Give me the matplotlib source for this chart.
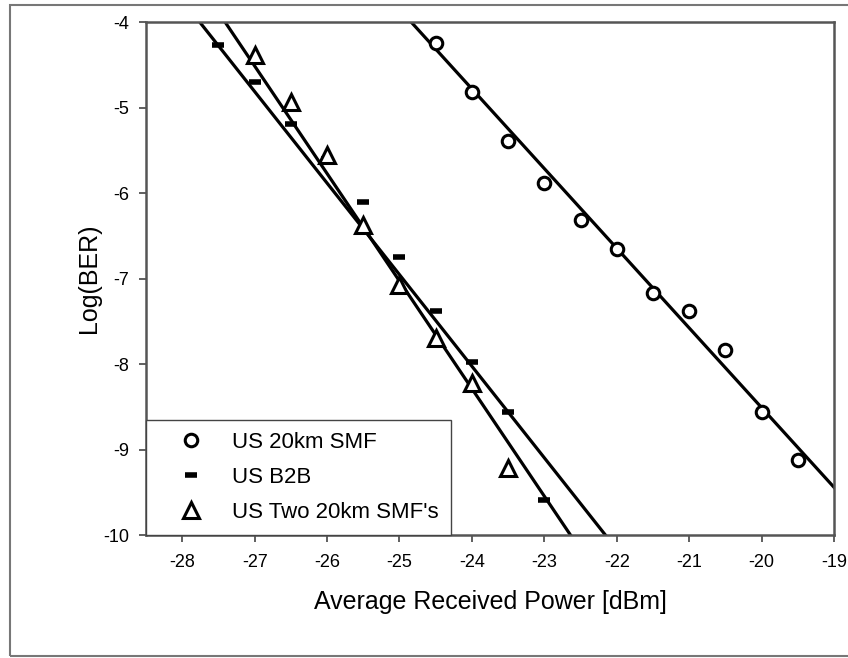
import numpy as np
import matplotlib
matplotlib.use('Agg')
import matplotlib.pyplot as plt
from matplotlib.patches import Rectangle

plt.rcParams['font.family'] = ['Liberation Sans', 'DejaVu Sans']
plt.rcParams['axes.unicode_minus'] = False

# US 20km SMF
x_20km = [-24.5, -24, -23.5, -23, -22.5, -22, -21.5, -21, -20.5, -20, -19.5]
y_20km = [-4.25, -4.82, -5.39, -5.88, -6.32, -6.65, -7.17, -7.38, -7.84, -8.56, -9.12]

# US B2B
x_b2b = [-27.5, -27, -26.5, -26, -25.5, -25, -24.5, -24, -23.5, -23]
y_b2b = [-4.27, -4.70, -5.19, -5.60, -6.10, -6.75, -7.38, -7.98, -8.56, -9.59]

# US Two 20km SMF's
x_two = [-27, -26.5, -26, -25.5, -25, -24.5, -24, -23.5]
y_two = [-4.39, -4.94, -5.56, -6.38, -7.08, -7.70, -8.22, -9.22]

# linear trendlines (slope, intercept)
trend_20km = (-0.932, -27.15)
trend_b2b = (-1.071, -33.73)
trend_two = (-1.258, -38.48)

xticks = [-28, -27, -26, -25, -24, -23, -22, -21, -20, -19]
yticks = [-4, -5, -6, -7, -8, -9, -10]

fig = plt.figure(figsize=(8.48, 6.58), dpi=100)
ax = fig.add_axes([146 / 848, 1 - 535 / 658, 688 / 848, 513 / 658])

# outer frame
fig.patches.append(Rectangle((10 / 848, 2 / 658), 1.2, 651 / 658, transform=fig.transFigure,
                             fill=False, edgecolor='#777777', lw=1.5))

xs = np.linspace(-30, -18, 50)
for m, b in [trend_20km, trend_b2b, trend_two]:
    ax.plot(xs, m * xs + b, color='black', lw=2.3, zorder=2)

ax.plot(x_20km, y_20km, 'o', ms=9, mfc='white', mec='black', mew=2.2, ls='none',
        label='US 20km SMF', zorder=3)
ax.plot(x_b2b, y_b2b, '_', ms=8, mec='black', mew=4, ls='none',
        label='US B2B', zorder=3)
ax.plot(x_two, y_two, '^', ms=11, mfc='white', mec='black', mew=2.2, ls='none',
        label="US Two 20km SMF's", zorder=3)

ax.set_xlim(-28.5, -19)
ax.set_ylim(-10, -4)
ax.set_xticks(xticks)
ax.set_yticks(yticks)
ax.tick_params(labelsize=13, length=5, width=1.2, color='#444444', pad=7)
ax.tick_params(axis='x', pad=9)
for s in ax.spines.values():
    s.set_color('#555555')
    s.set_linewidth(1.8)

ax.set_xlabel('Average Received Power [dBm]', fontsize=18, labelpad=13)
ax.set_ylabel('Log(BER)', fontsize=18, labelpad=2)

leg = ax.legend(loc='lower left', bbox_to_anchor=(0, 0), borderaxespad=0, fontsize=16,
                fancybox=False, edgecolor='#444444', framealpha=1, handlelength=2.95,
                handletextpad=0.37, labelspacing=0.62, borderpad=0.55)
leg.get_frame().set_linewidth(1.0)

fig.savefig('out.png', dpi=100)
